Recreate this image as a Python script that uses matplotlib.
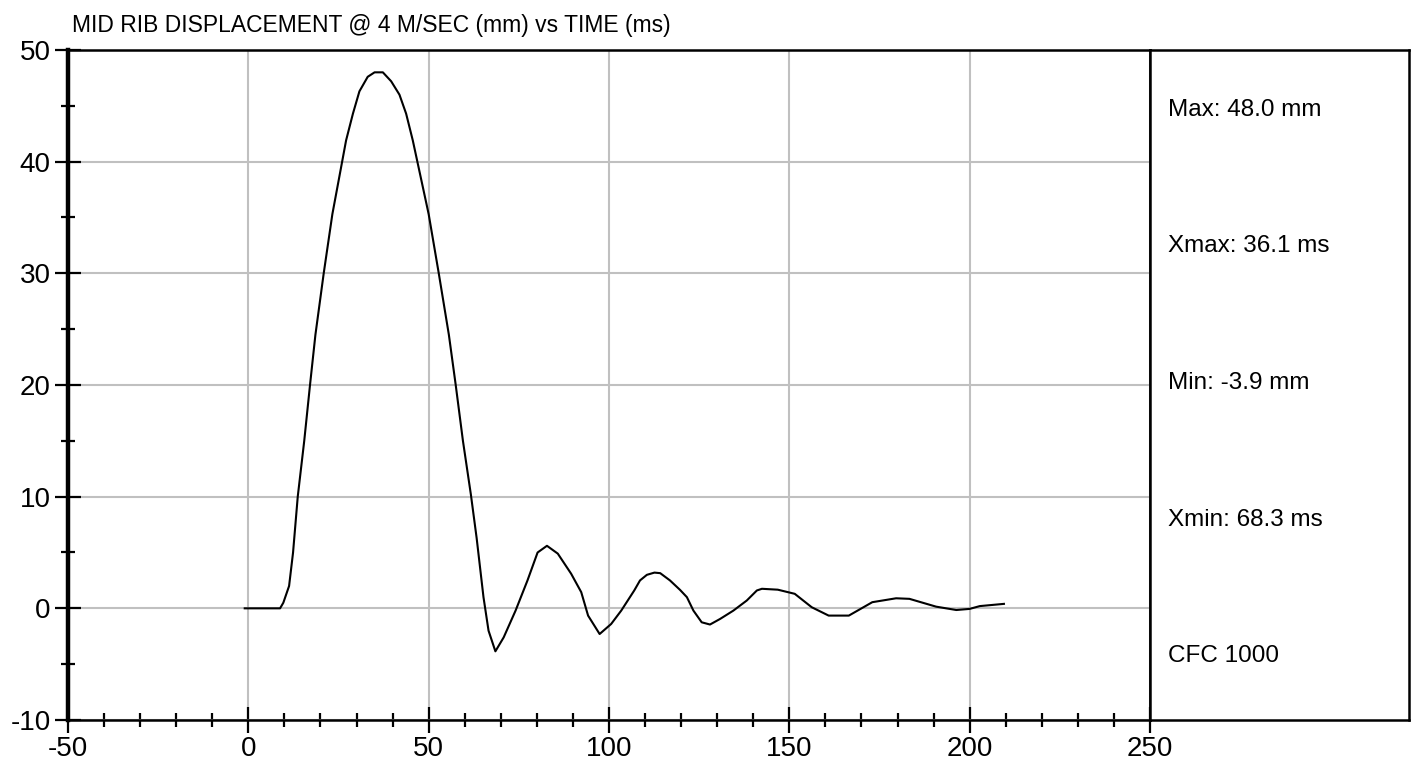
import matplotlib.pyplot as plt
from matplotlib.ticker import MultipleLocator

# values
time_ms = [-1, 8.8, 9.7, 11.3, 12.4, 13.7, 15.5, 17.1, 18.6, 20.9, 23.3, 25.75, 27.1,
           29.0, 30.8, 33.1, 35.0, 37.3, 39.6, 41.9, 43.75, 45.6, 47.2, 50, 52.8,
           55.6, 57.5, 59.5, 61.7, 63.3, 65.2, 66.6, 68.5, 70.8, 74.1, 77.4, 80.2,
           82.8, 85.8, 89.5, 92.3, 94.2, 97.4, 100.6, 103.4, 107, 108.6, 110.5,
           112.6, 114.2, 116.9, 119.7, 121.6, 123.4, 125.7, 128, 130.8, 134.5,
           138.2, 141, 142.4, 146.8, 151.5, 156.2, 160.9, 166.5, 173, 179.6,
           183.3, 190.7, 196.3, 200, 202.8, 209.5]
disp_mm = [0, 0, 0.5, 2, 5, 10, 15, 20, 24.5, 30, 35.3, 39.55, 41.9,
           44.3, 46.3, 47.6, 48.0, 48.0, 47.2, 46.0, 44.3, 41.9, 39.5, 35.3, 30,
           24.5, 20, 15, 10.2, 6.3, 1.0, -2.0, -3.85, -2.6, -0.2, 2.5, 5.0,
           5.6, 4.9, 3.1, 1.45, -0.65, -2.3, -1.4, -0.2, 1.6, 2.5, 3.0,
           3.2, 3.15, 2.5, 1.65, 1.0, -0.2, -1.25, -1.45, -0.95, -0.2,
           0.7, 1.6, 1.75, 1.67, 1.3, 0.1, -0.65, -0.65, 0.55, 0.9,
           0.85, 0.15, -0.15, -0.05, 0.2, 0.4]

title = "MID RIB DISPLACEMENT @ 4 M/SEC (mm) vs TIME (ms)"
side_lines = ["Max: 48.0 mm", "Xmax: 36.1 ms", "Min: -3.9 mm", "Xmin: 68.3 ms", "CFC 1000"]

narrow = ['Liberation Sans Narrow', 'Liberation Sans', 'DejaVu Sans']
plt.rcParams['font.family'] = ['Liberation Sans', 'DejaVu Sans']
plt.rcParams['axes.unicode_minus'] = False

W, H = 1416, 769
fig = plt.figure(figsize=(W / 100, H / 100), dpi=100)
ax = fig.add_axes([68 / W, 1 - 720 / H, (1150 - 68) / W, 670 / H])

ax.plot(time_ms, disp_mm, color='black', lw=1.5, zorder=3)

ax.set_xlim(-50, 250)
ax.set_ylim(-10, 50)
ax.xaxis.set_major_locator(MultipleLocator(50))
ax.xaxis.set_minor_locator(MultipleLocator(10))
ax.yaxis.set_major_locator(MultipleLocator(10))
ax.yaxis.set_minor_locator(MultipleLocator(5))
ax.grid(True, which='major', color='#c0c0c0', lw=1.5, zorder=0)
ax.tick_params(which='major', direction='inout', length=19, width=1.6,
               labelsize=20, pad=3)
ax.tick_params(which='minor', direction='inout', length=10, width=1.6)
ax.tick_params(axis='x', pad=2)

for side in ['top', 'right', 'bottom']:
    ax.spines[side].set_linewidth(1.8)
ax.spines['left'].set_linewidth(3.2)

fig.text(72 / W, 1 - 32 / H, title, fontsize=16.5, family=narrow,
         va='baseline', ha='left')

# side panel with summary values
side = fig.add_axes([1150 / W, 1 - 720 / H, (1409 - 1150) / W, 670 / H])
side.set_xticks([])
side.set_yticks([])
for s in side.spines.values():
    s.set_linewidth(1.8)
for i, txt in enumerate(side_lines):
    side.text(0.07, 1 - (110 - 50 + i * 136.5) / 670, txt, fontsize=17.5,
              family=narrow, va='center', ha='left', transform=side.transAxes)

fig.savefig('out.png', dpi=100)
